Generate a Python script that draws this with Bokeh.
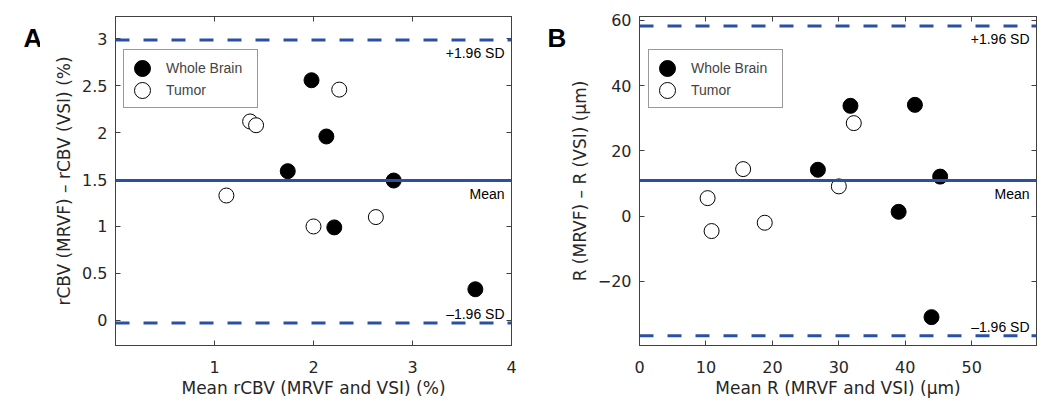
from bokeh.plotting import figure
from bokeh.layouts import row
from bokeh.models import (Span, Label, LinearAxis, FixedTicker, CustomJSTickFormatter,
                          Range1d, Legend, LegendItem)
from bokeh.embed import file_html
from bokeh.resources import INLINE

# ---------------- data ----------------
# Panel A: rCBV (%)
a_wb_x = [1.98, 2.13, 1.74, 2.81, 2.21, 3.635]
a_wb_y = [2.56, 1.96, 1.59, 1.49, 0.99, 0.33]
a_tu_x = [1.12, 1.36, 1.42, 2.26, 2.00, 2.63]
a_tu_y = [1.33, 2.12, 2.08, 2.46, 1.00, 1.10]
a_mean, a_upper, a_lower = 1.49, 2.99, -0.03
a_xticks = [1, 2, 3, 4]
a_yticks = [0, 0.5, 1, 1.5, 2, 2.5, 3]

# Panel B: R (um)
b_wb_x = [31.75, 41.45, 26.85, 45.25, 39.0, 43.95]
b_wb_y = [33.8, 34.1, 14.2, 12.1, 1.3, -31.0]
b_tu_x = [32.25, 15.6, 30.0, 10.25, 10.85, 18.85]
b_tu_y = [28.5, 14.4, 9.1, 5.5, -4.6, -2.05]
b_mean, b_upper, b_lower = 10.9, 58.3, -36.7
b_xticks = [0, 10, 20, 30, 40, 50]
b_yticks = [-20, 0, 20, 40, 60]

BLUE = "#2a50a6"
AXC = "#404040"
TXT = "#262626"
FONT = "DejaVu Sans"
ARIAL = "Liberation Sans"
H = 400
FRAME_TOP = 16
FRAME_BOTTOM_BORDER = 54

fmt = CustomJSTickFormatter(code="""
return (tick < 0 ? '\\u2212' : '') + Math.abs(tick).toString();
""")


def mirror_axis(ticks):
    return LinearAxis(ticker=FixedTicker(ticks=ticks), major_label_text_font_size="0px",
                      major_label_text_color=None, major_label_standoff=0,
                      major_tick_in=5, major_tick_out=0, minor_tick_line_color=None,
                      axis_line_color=AXC, major_tick_line_color=AXC)


def letter_fig(letter, width, dx):
    # its frame is aligned with the panels' frames (top at FRAME_TOP)
    f = figure(width=width, height=H, output_backend="svg", toolbar_location=None,
               title=None, x_range=Range1d(0, 1), y_range=Range1d(0, 1),
               x_axis_type=None, y_axis_type=None, min_border=0)
    f.outline_line_color = None
    f.background_fill_color = "white"
    f.border_fill_color = "white"
    f.add_layout(Label(x=0, y=1, x_offset=dx, y_offset=-21, text=letter,
                       text_font=ARIAL, text_font_size="26px", text_font_style="bold",
                       text_baseline="alphabetic", text_align="left",
                       text_color="black"))
    return f


def panel(wb_x, wb_y, tu_x, tu_y, mean, upper, lower, xr, yr, xticks, yticks,
          xlabel, ylabel, width, bl, br, leg_dx):
    p = figure(width=width, height=H, output_backend="svg", toolbar_location=None,
               x_range=Range1d(*xr), y_range=Range1d(*yr),
               min_border_left=bl, min_border_right=br, min_border_top=FRAME_TOP,
               min_border_bottom=FRAME_BOTTOM_BORDER)
    frame_h = H - FRAME_TOP - FRAME_BOTTOM_BORDER
    p.grid.visible = False
    p.outline_line_color = AXC
    p.outline_line_width = 1
    p.background_fill_color = "white"
    p.border_fill_color = "white"

    xa = p.xaxis[0]
    ya = p.yaxis[0]
    xa.ticker = FixedTicker(ticks=xticks)
    ya.ticker = FixedTicker(ticks=yticks)
    xa.formatter = fmt
    ya.formatter = fmt
    for ax in (xa, ya):
        ax.axis_line_color = AXC
        ax.major_tick_line_color = AXC
        ax.major_tick_in = 5
        ax.major_tick_out = 0
        ax.minor_tick_line_color = None
        ax.major_label_text_font = FONT
        ax.major_label_text_font_size = "16px"
        ax.major_label_text_color = TXT
        ax.axis_label_text_font = FONT
        ax.axis_label_text_font_size = "17px"
        ax.axis_label_text_font_style = "normal"
        ax.axis_label_text_color = TXT
    xa.axis_label = xlabel
    ya.axis_label = ylabel
    xa.major_label_standoff = 15
    xa.axis_label_standoff = 2
    ya.major_label_standoff = 8
    ya.axis_label_standoff = 5

    p.add_layout(mirror_axis(xticks), "above")
    p.add_layout(mirror_axis(yticks), "right")

    # agreement lines
    p.add_layout(Span(location=upper, dimension="width", line_color=BLUE, line_width=3,
                      line_dash="14 14"))
    p.add_layout(Span(location=lower, dimension="width", line_color=BLUE, line_width=3,
                      line_dash="14 14"))
    p.add_layout(Span(location=mean, dimension="width", line_color=BLUE, line_width=3))

    r1 = p.scatter(wb_x, wb_y, size=15, marker="circle", fill_color="black",
                   line_color="black")
    r2 = p.scatter(tu_x, tu_y, size=15, marker="circle", fill_color="white",
                   line_color="black", line_width=1)
    # empty, invisible renderer used only to draw the legend frame
    r_box = p.scatter([], [], size=1, fill_alpha=0, line_alpha=0)

    lab = dict(text_font=ARIAL, text_font_size="14px", text_color="black",
               text_align="right")
    p.add_layout(Label(x=xr[1], y=upper, text="+1.96 SD", x_offset=-7, y_offset=-5,
                       text_baseline="top", **lab))
    p.add_layout(Label(x=xr[1], y=mean, text="Mean", x_offset=-7, y_offset=-5,
                       text_baseline="top", **lab))
    p.add_layout(Label(x=xr[1], y=lower, text="\u20131.96 SD", x_offset=-7, y_offset=1,
                       text_baseline="bottom", **lab))

    # legend: a frame plus two single-entry legends
    box_top = frame_h - 36
    box = Legend(items=[LegendItem(label="", renderers=[r_box])],
                 location=(leg_dx, box_top - 57), border_line_color="#333333",
                 border_line_width=1, background_fill_color="white",
                 glyph_width=133, glyph_height=57, padding=0, label_standoff=0,
                 label_width=0, label_height=0, margin=0)
    p.add_layout(box)
    common = dict(border_line_color=None, background_fill_alpha=0,
                  label_text_font=ARIAL, label_text_font_size="14px",
                  glyph_width=40, glyph_height=40, padding=0, label_standoff=4,
                  margin=0)
    p.add_layout(Legend(items=[LegendItem(label="Whole Brain", renderers=[r1])],
                        location=(leg_dx - 1, box_top + 3 - 40), **common))
    p.add_layout(Legend(items=[LegendItem(label="Tumor", renderers=[r2])],
                        location=(leg_dx - 1, box_top - 19 - 40), **common))
    return p


la = letter_fig("A", 40, 23)
pa = panel(a_wb_x, a_wb_y, a_tu_x, a_tu_y, a_mean, a_upper, a_lower,
           (0, 4), (-0.27, 3.24), a_xticks, a_yticks,
           "Mean rCBV (MRVF and VSI) (%)", "rCBV (MRVF) \u2013 rCBV (VSI) (%)",
           481, 75, 10, 8)
lb = letter_fig("B", 45, 26)
pb = panel(b_wb_x, b_wb_y, b_tu_x, b_tu_y, b_mean, b_upper, b_lower,
           (0, 59.75), (-39.7, 61.2), b_xticks, b_yticks,
           "Mean R (MRVF and VSI) (\u00b5m)", "R (MRVF) \u2013 R (VSI) (\u00b5m)",
           476, 72, 6, 9)

layout = row(la, pa, lb, pb)
open("out.html", "w").write(file_html(layout, INLINE))
